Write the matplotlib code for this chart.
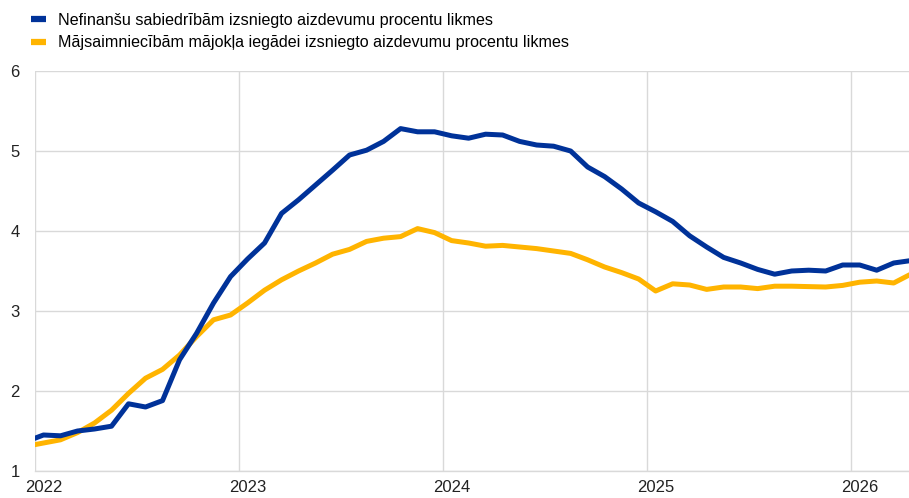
import matplotlib
matplotlib.use("Agg")
import matplotlib.pyplot as plt
from matplotlib.lines import Line2D
import numpy as np

plt.rcParams['font.family'] = ['Liberation Sans', 'DejaVu Sans']

# Monthly data, Dec 2021 .. Apr 2026
months = ["2021-12"] + [f"{y}-{m:02d}" for y in range(2022, 2027) for m in range(1, 13)]
months = months[:53]

nfc_rates = [1.37,
             1.45, 1.44, 1.50, 1.525, 1.56, 1.84, 1.80, 1.88, 2.39, 2.72, 3.10, 3.43,
             3.65, 3.85, 4.22, 4.39, 4.575, 4.76, 4.95, 5.01, 5.12, 5.28, 5.24, 5.24,
             5.19, 5.16, 5.21, 5.20, 5.12, 5.075, 5.06, 5.00, 4.80, 4.68, 4.525, 4.35,
             4.24, 4.12, 3.94, 3.80, 3.67, 3.60, 3.52, 3.46, 3.50, 3.51, 3.50, 3.575,
             3.575, 3.51, 3.60, 3.63]

hh_rates = [1.31,
            1.35, 1.39, 1.48, 1.60, 1.76, 1.97, 2.16, 2.27, 2.45, 2.68, 2.89, 2.95,
            3.10, 3.26, 3.39, 3.50, 3.60, 3.71, 3.77, 3.87, 3.91, 3.93, 4.03, 3.98,
            3.88, 3.85, 3.81, 3.82, 3.80, 3.78, 3.75, 3.72, 3.64, 3.55, 3.48, 3.40,
            3.25, 3.34, 3.325, 3.27, 3.30, 3.30, 3.28, 3.31, 3.31, 3.305, 3.30, 3.32,
            3.36, 3.375, 3.35, 3.46]

labels = ["Nefinanšu sabiedrībām izsniegto aizdevumu procentu likmes",
          "Mājsaimniecībām mājokļa iegādei izsniegto aizdevumu procentu likmes"]
year_labels = ["2022", "2023", "2024", "2025", "2026"]
colors = ["#003299", "#FFB400"]

# x position: month index (Jan 2022 = 0), plotted at mid-month
x = np.arange(len(months)) - 1 + 0.5

fig = plt.figure(figsize=(9.09, 4.98), dpi=100)
ax = fig.add_axes([35/909, 27/498, 874/909, 400/498])

ax.plot(x, hh_rates, color=colors[1], lw=3.6, solid_capstyle='butt', zorder=3)
ax.plot(x, nfc_rates, color=colors[0], lw=3.6, solid_capstyle='butt', zorder=4)

ax.set_xlim(0, 51.4)
ax.set_ylim(1, 6)
ax.set_yticks([1, 2, 3, 4, 5, 6])
ax.set_xticks([0, 12, 24, 36, 48])
ax.set_xticklabels([])
ax.set_xticks([0.5, 12.5, 24.5, 36.5, 48.5], minor=True)
ax.set_xticklabels(year_labels, minor=True)
ax.tick_params(axis='x', which='both', length=0, labelsize=12, pad=6.5, colors='#222222')
ax.tick_params(axis='y', length=0, labelsize=12, pad=11, colors='#222222')
ax.grid(True, which='major', color='#d9d9d9', lw=1)
ax.set_axisbelow(True)
for s in ['top', 'right', 'left']:
    ax.spines[s].set_visible(False)
ax.spines['bottom'].set_color('#d9d9d9')
ax.spines['bottom'].set_linewidth(1)

handles = [Line2D([0], [0], color=c, lw=4.5, solid_capstyle='butt') for c in colors]
fig.legend(handles, labels, loc='upper left', bbox_to_anchor=(31/909, 1 - 13/498),
           frameon=False, fontsize=11.6, handlelength=0.95, handletextpad=0.75,
           labelspacing=0.45, borderpad=0, borderaxespad=0)

fig.savefig("out.png", dpi=100)
